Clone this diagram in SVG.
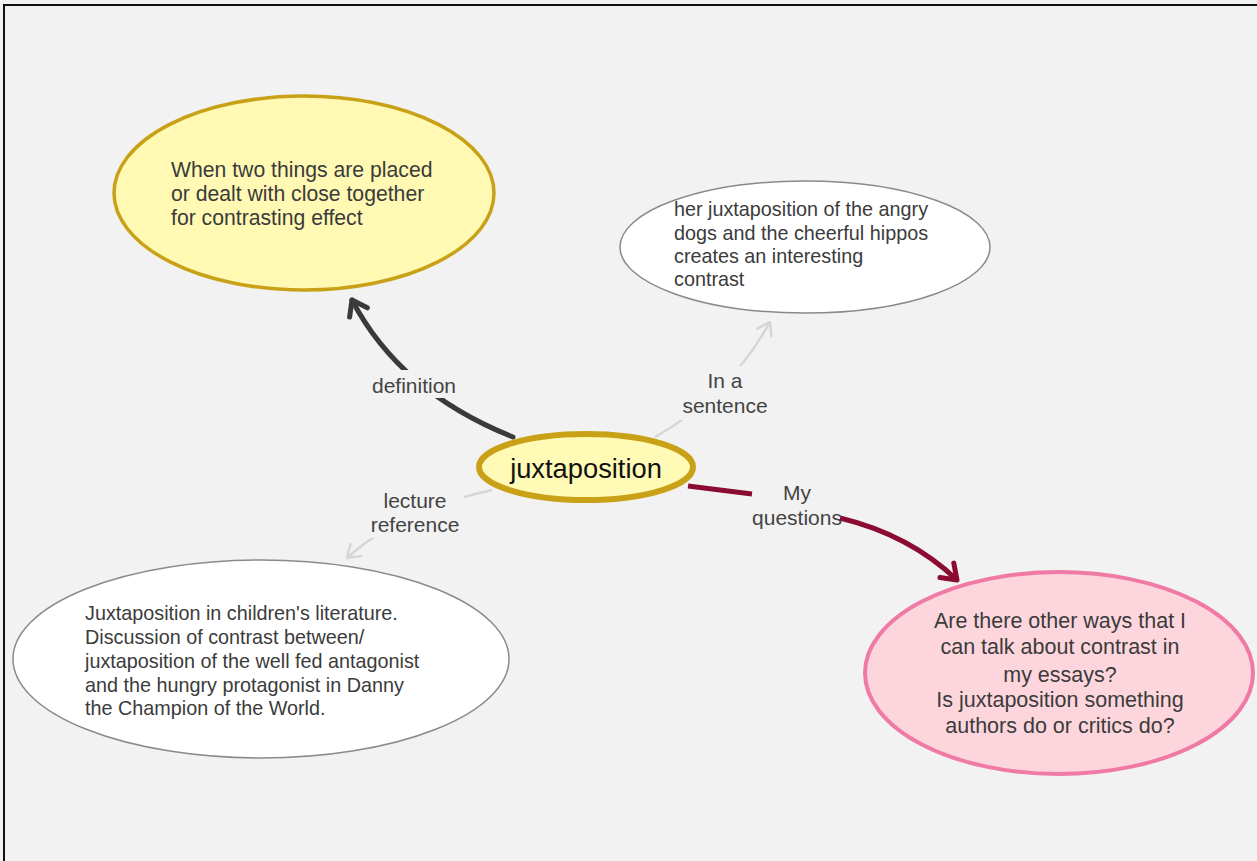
<svg xmlns="http://www.w3.org/2000/svg" width="1257" height="861" viewBox="0 0 1257 861">
<defs>
<style>
.bg{fill:#f2f2f2}
.t{font-family:"Liberation Sans",Arial,sans-serif;fill:#3b3b3b}
.n{font-size:19.8px}
.lbl{font-size:21px;text-anchor:middle;fill:#444}
.gap{fill:#f2f2f2}
</style>
<marker id="aDark" markerUnits="userSpaceOnUse" markerWidth="40" markerHeight="40" viewBox="-20 -20 40 40" refX="0" refY="0" orient="auto">
<path d="M -14 -10 L 0 0 L -14 10" fill="none" stroke="#3a3a3a" stroke-width="5" stroke-linecap="round" stroke-linejoin="round"/>
</marker>
<marker id="aRed" markerUnits="userSpaceOnUse" markerWidth="40" markerHeight="40" viewBox="-20 -20 40 40" refX="0" refY="0" orient="auto">
<path d="M -14 -10 L 0 0 L -14 10" fill="none" stroke="#8c0b32" stroke-width="5" stroke-linecap="round" stroke-linejoin="round"/>
</marker>
<marker id="aLight" markerUnits="userSpaceOnUse" markerWidth="40" markerHeight="40" viewBox="-20 -20 40 40" refX="0" refY="0" orient="auto">
<path d="M -12 -8 L 0 0 L -12 8" fill="none" stroke="#d6d6d6" stroke-width="2.5" stroke-linecap="round" stroke-linejoin="round"/>
</marker>
</defs>
<rect class="bg" x="0" y="0" width="1257" height="861"/>
<rect x="4" y="5" width="1270" height="880" fill="none" stroke="#111" stroke-width="2"/>

<g id="connectors">
<path d="M 513 437 Q 400 392 352 300" fill="none" stroke="#3a3a3a" stroke-width="5" stroke-linecap="round" marker-end="url(#aDark)"/>
<path d="M 655 437 Q 730 395 770 322" fill="none" stroke="#d6d6d6" stroke-width="2.5" marker-end="url(#aLight)"/>
<path d="M 492 490 Q 400 510 347 558" fill="none" stroke="#d6d6d6" stroke-width="2.5" marker-end="url(#aLight)"/>
<path d="M 688 486 L 752 494" fill="none" stroke="#8c0b32" stroke-width="5"/>
<path d="M 840 518 Q 910 535 957 580" fill="none" stroke="#8c0b32" stroke-width="5" marker-end="url(#aRed)"/>
<rect class="gap" x="366" y="370" width="96" height="28"/>
<rect class="gap" x="678" y="366" width="96" height="54"/>
<rect class="gap" x="366" y="486" width="98" height="52"/>
<text class="t lbl" x="414" y="393">definition</text>
<text class="t lbl" x="725" y="388">In a</text>
<text class="t lbl" x="725" y="413">sentence</text>
<text class="t lbl" x="415" y="508">lecture</text>
<text class="t lbl" x="415" y="532">reference</text>
<text class="t lbl" x="797" y="500">My</text>
<text class="t lbl" x="797" y="525">questions</text>
</g>

<g id="definition-node">
<ellipse cx="304" cy="193" rx="190" ry="97" fill="#fff9b3" stroke="#c9a116" stroke-width="3.5"/>
<text class="t" font-size="21.2"><tspan x="171" y="177">When two things are placed</tspan><tspan x="171" y="201">or dealt with close together</tspan><tspan x="171" y="225">for contrasting effect</tspan></text>
</g>

<g id="sentence-node">
<ellipse cx="805" cy="247" rx="185" ry="66" fill="#ffffff" stroke="#8a8a8a" stroke-width="1.5"/>
<text class="t n"><tspan x="674" y="216">her juxtaposition of the angry</tspan><tspan x="674" y="240">dogs and the cheerful hippos</tspan><tspan x="674" y="263">creates an interesting</tspan><tspan x="674" y="286">contrast</tspan></text>
</g>

<g id="center-node">
<ellipse cx="586" cy="467" rx="107" ry="33" fill="#fffab5" stroke="#c9a116" stroke-width="6"/>
<text class="t" x="586" y="478" font-size="27.3" text-anchor="middle" style="fill:#111">juxtaposition</text>
</g>

<g id="lecture-node">
<ellipse cx="261" cy="659" rx="248" ry="99" fill="#ffffff" stroke="#8a8a8a" stroke-width="1.5"/>
<text class="t n"><tspan x="85" y="620">Juxtaposition in children's literature.</tspan><tspan x="85" y="644">Discussion of contrast between/</tspan><tspan x="85" y="668">juxtaposition of the well fed antagonist</tspan><tspan x="85" y="692">and the hungry protagonist in Danny</tspan><tspan x="85" y="715">the Champion of the World.</tspan></text>
</g>

<g id="questions-node">
<ellipse cx="1059" cy="673" rx="194" ry="101" fill="#fdd6dd" stroke="#f07aa6" stroke-width="4"/>
<text class="t" font-size="21.5" text-anchor="middle"><tspan x="1060" y="628">Are there other ways that I</tspan><tspan x="1060" y="654">can talk about contrast in</tspan><tspan x="1060" y="682">my essays?</tspan><tspan x="1060" y="707">Is juxtaposition something</tspan><tspan x="1060" y="733">authors do or critics do?</tspan></text>
</g>
</svg>
